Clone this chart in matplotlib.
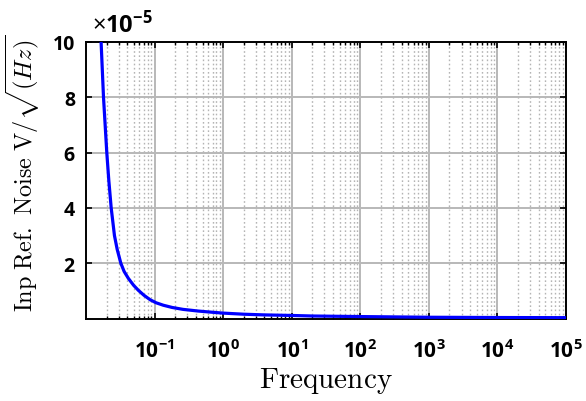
import numpy as np
import matplotlib
matplotlib.use("Agg")
import matplotlib.pyplot as plt
from matplotlib.ticker import LogLocator, NullFormatter

# Data
freq = [0.0166, 0.0180, 0.0201, 0.0215, 0.0233, 0.0260, 0.0285, 0.0322,
        0.0360, 0.0415, 0.0495, 0.058, 0.070, 0.086, 0.105, 0.134, 0.18,
        0.26, 0.43, 0.70, 1.0, 2.0, 4.0, 10.0, 20.0, 100.0, 1000.0, 1e4, 1e5]
noise = [10.0e-5, 8.0e-5, 6.0e-5, 5.0e-5, 4.0e-5, 3.0e-5, 2.5e-5, 2.0e-5,
         1.7e-5, 1.45e-5, 1.2e-5, 1.02e-5, 0.84e-5, 0.68e-5, 0.57e-5, 0.48e-5,
         0.40e-5, 0.33e-5, 0.27e-5, 0.225e-5, 0.195e-5, 0.155e-5, 0.13e-5,
         0.11e-5, 0.09e-5, 0.07e-5, 0.045e-5, 0.035e-5, 0.03e-5]
xticks = [1e-1, 1e0, 1e1, 1e2, 1e3, 1e4, 1e5]
xtick_labels = [r"$\mathbf{10^{-1}}$", r"$\mathbf{10^{0}}$", r"$\mathbf{10^{1}}$",
                r"$\mathbf{10^{2}}$", r"$\mathbf{10^{3}}$", r"$\mathbf{10^{4}}$",
                r"$\mathbf{10^{5}}$"]
yticks = [2e-5, 4e-5, 6e-5, 8e-5, 10e-5]
ytick_labels = ["2", "4", "6", "8", "10"]

plt.rcParams['mathtext.fontset'] = 'custom'
plt.rcParams['mathtext.bf'] = 'Open Sans:bold'
plt.rcParams['mathtext.rm'] = 'Open Sans'

fig = plt.figure(figsize=(5.86, 4.02), dpi=100)
ax = fig.add_axes([86/586, (402-319.5)/402, (566-86)/586, (319.5-43)/402])

ax.set_xscale('log')
ax.set_xlim(1e-2, 1e5)
ax.set_ylim(0, 10e-5)

# grids
ax.xaxis.set_minor_locator(LogLocator(base=10, subs=np.arange(2, 10), numticks=50))
ax.xaxis.set_minor_formatter(NullFormatter())
ax.grid(True, which='major', axis='both', color='#b8b8b8', linewidth=1.4, linestyle='-')
ax.grid(True, which='minor', axis='x', color='#b4b4b4', linewidth=1.0, linestyle=(0, (1.2, 1.8)))
ax.set_axisbelow(True)

ax.plot(freq, noise, color='#0000ff', linewidth=2.3, zorder=3)

ax.set_xticks(xticks)
ax.set_xticklabels(xtick_labels)
ax.set_yticks(yticks)
ax.set_yticklabels(ytick_labels)

for lab in ax.get_xticklabels():
    lab.set_fontsize(15)
    lab.set_math_fontfamily('custom')
for lab in ax.get_yticklabels():
    lab.set_fontsize(14)
    lab.set_fontweight('bold')
    lab.set_family('Open Sans')

ax.tick_params(axis='both', which='both', direction='in', top=True, right=True, color='black')
ax.tick_params(axis='x', which='major', length=4, width=1.2, pad=14)
ax.tick_params(axis='x', which='minor', length=2.5, width=1.0)
ax.tick_params(axis='y', which='major', length=4, width=1.2, pad=8)
for sp in ax.spines.values():
    sp.set_linewidth(1.4)

ax.set_xlabel(r"$\mathrm{Frequency}$", fontsize=21, math_fontfamily='cm', labelpad=3)
ax.set_ylabel(r"$\mathrm{Inp\ Ref.\ Noise\ V}/\sqrt{(Hz)}$", fontsize=17.5, math_fontfamily='cm')
ax.yaxis.set_label_coords(-0.092, 0.53)

fig.text(92/586, 1 - 33/402, r"$\times\mathbf{10^{-5}}$", fontsize=17, va='baseline', ha='left',
         math_fontfamily='custom')

fig.savefig("out.png", dpi=100)
